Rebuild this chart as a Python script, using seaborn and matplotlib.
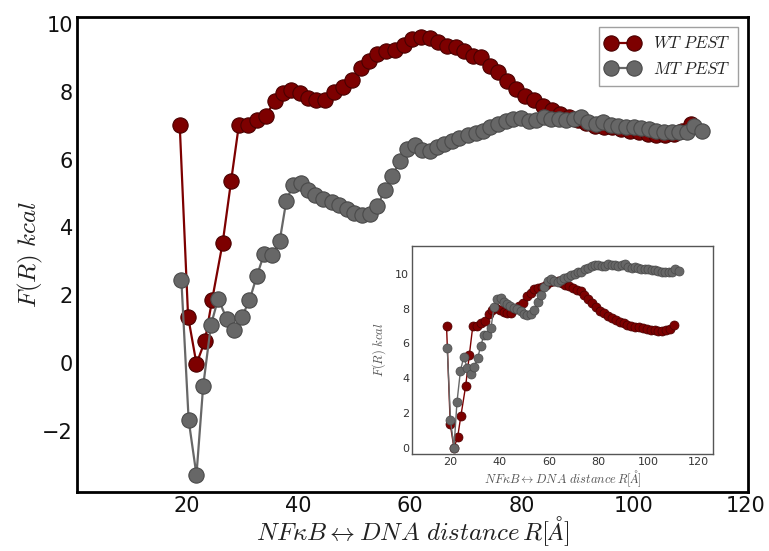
import matplotlib
matplotlib.use('Agg')
import matplotlib.pyplot as plt
import seaborn as sns
import numpy as np

# ---- data ----
wt_r = [18.7, 20.2, 21.7, 23.2, 24.5, 26.4, 27.9, 29.3, 30.9, 32.5, 34.1, 35.7,
        37.2, 38.7, 40.2, 41.7, 43.2, 44.7, 46.3, 47.9, 49.5, 51.1, 52.6, 54.1,
        55.6, 57.2, 58.8, 60.3, 61.9, 63.5, 65.0, 66.6, 68.2, 69.7, 71.2, 72.7,
        74.2, 75.8, 77.4, 78.9, 80.5, 82.1, 83.7, 85.3, 86.8, 88.4, 90.0, 91.5,
        93.1, 94.7, 96.2, 97.8, 99.4, 100.9, 102.5, 104.0, 105.6, 107.2, 108.7, 110.2]
wt_f = [7.02, 1.37, -0.02, 0.64, 1.86, 3.55, 5.36, 7.02, 7.03, 7.15, 7.29, 7.72,
        7.95, 8.05, 7.95, 7.81, 7.74, 7.75, 7.98, 8.13, 8.34, 8.71, 8.91, 9.11,
        9.21, 9.23, 9.38, 9.55, 9.60, 9.58, 9.45, 9.35, 9.32, 9.21, 9.06, 9.01,
        8.76, 8.57, 8.32, 8.08, 7.88, 7.74, 7.59, 7.46, 7.35, 7.25, 7.15, 7.07,
        7.00, 6.95, 6.95, 6.90, 6.85, 6.80, 6.76, 6.72, 6.72, 6.76, 6.85, 7.05]

mt_r = [19.0, 20.3, 21.7, 22.9, 24.3, 25.6, 27.1, 28.5, 29.8, 31.2, 32.5, 33.8,
        35.2, 36.6, 37.8, 39.0, 40.5, 41.7, 43.0, 44.4, 45.9, 47.2, 48.6, 49.9,
        51.3, 52.7, 54.1, 55.4, 56.8, 58.1, 59.5, 60.8, 62.1, 63.5, 64.8, 66.1,
        67.5, 68.8, 70.3, 71.7, 73.0, 74.3, 75.7, 77.1, 78.4, 79.8, 81.2, 82.6,
        83.9, 85.2, 86.6, 87.9, 89.3, 90.6, 91.9, 93.2, 94.6, 95.9, 97.2, 98.6,
        100.0, 101.3, 102.7, 104.0, 105.4, 106.8, 108.2, 109.5, 110.8, 112.2]
mt_f = [2.44, -1.68, -3.30, -0.68, 1.13, 1.90, 1.31, 0.97, 1.35, 1.85, 2.56, 3.21,
        3.18, 3.59, 4.79, 5.24, 5.30, 5.09, 4.96, 4.84, 4.74, 4.67, 4.55, 4.42,
        4.35, 4.40, 4.62, 5.09, 5.50, 5.97, 6.31, 6.42, 6.28, 6.26, 6.36, 6.46,
        6.54, 6.64, 6.71, 6.78, 6.83, 6.97, 7.05, 7.13, 7.20, 7.23, 7.13, 7.17,
        7.26, 7.20, 7.20, 7.17, 7.20, 7.24, 7.10, 7.05, 7.10, 7.03, 7.00, 6.97,
        6.95, 6.93, 6.90, 6.85, 6.80, 6.80, 6.80, 6.80, 7.00, 6.85]

main_xticks = [20, 40, 60, 80, 100, 120]
main_yticks = [-2, 0, 2, 4, 6, 8, 10]
inset_xticks = [20, 40, 60, 80, 100, 120]
inset_yticks = [0, 2, 4, 6, 8, 10]

# inset: MT profile referenced to its own minimum
mt_f_inset = list(np.array(mt_f) - min(mt_f))

RED = '#7d0000'
RED_EDGE = '#4a0000'
GRAY = '#676767'
GRAY_EDGE = '#4a4a4a'

sns.set_style('white')
plt.rcParams['font.family'] = ['DejaVu Sans']
plt.rcParams['mathtext.fontset'] = 'cm'

W, H = 769, 551
fig = plt.figure(figsize=(W / 100, H / 100), dpi=100)

# ---- main axes ----
L, R, T, B = 77, 748, 17, 492
ax = fig.add_axes([L / W, 1 - B / H, (R - L) / W, (B - T) / H])
sns.lineplot(x=wt_r, y=wt_f, ax=ax, color=RED, linewidth=1.6, marker='o',
             markersize=11, markeredgecolor=RED_EDGE, markeredgewidth=0.8,
             label=r'$WT\ PEST$')
sns.lineplot(x=mt_r, y=mt_f, ax=ax, color=GRAY, linewidth=1.6, marker='o',
             markersize=11, markeredgecolor=GRAY_EDGE, markeredgewidth=0.8,
             label=r'$MT\ PEST$')
ax.set_xlim(0.3, 120.5)
ax.set_ylim(-3.8, 10.2)
ax.set_xticks(main_xticks)
ax.set_yticks(main_yticks)
ax.tick_params(axis='both', labelsize=15, length=0, pad=3, colors='#111111')
for s in ax.spines.values():
    s.set_color('black')
    s.set_linewidth(2.0)
ax.set_xlabel(r'$NF\kappa B \leftrightarrow DNA\ distance\, R[\AA]$', fontsize=18,
              color='#222222')
ax.xaxis.label.set_va('center')
ax.xaxis.set_label_coords(0.5, -0.083)
ax.set_ylabel(r'$F(R)\ kcal$', fontsize=18, color='#222222')
ax.yaxis.label.set_va('center')
ax.yaxis.set_label_coords(-0.069, 0.5)
leg = ax.legend(loc='upper right', fontsize=12, numpoints=2, frameon=True,
                fancybox=False, edgecolor='#888888', borderaxespad=0.6,
                handlelength=2.0, borderpad=0.45, labelspacing=0.45)
leg.get_frame().set_linewidth(1.0)

# ---- inset axes ----
iL, iR, iT, iB = 412, 713, 246, 454
ax2 = fig.add_axes([iL / W, 1 - iB / H, (iR - iL) / W, (iB - iT) / H])
sns.lineplot(x=wt_r, y=wt_f, ax=ax2, color=RED, linewidth=1.0, marker='o',
             markersize=6.5, markeredgecolor=RED_EDGE, markeredgewidth=0.5,
             legend=False)
sns.lineplot(x=mt_r, y=mt_f_inset, ax=ax2, color=GRAY, linewidth=1.0, marker='o',
             markersize=6.5, markeredgecolor=GRAY_EDGE, markeredgewidth=0.5,
             legend=False)
ax2.set_xlim(4.8, 126)
ax2.set_ylim(-0.35, 11.6)
ax2.set_xticks(inset_xticks)
ax2.set_yticks(inset_yticks)
ax2.tick_params(axis='both', labelsize=8, length=0, pad=2, colors='#333333')
for s in ax2.spines.values():
    s.set_color('#555555')
    s.set_linewidth(1.0)
ax2.set_xlabel(r'$NF\kappa B \leftrightarrow DNA\ distance\, R[\AA]$', fontsize=9,
               color='#555555', labelpad=1)
ax2.set_ylabel(r'$F(R)\ kcal$', fontsize=9, color='#555555', labelpad=5)

fig.savefig('out.png', dpi=100)
